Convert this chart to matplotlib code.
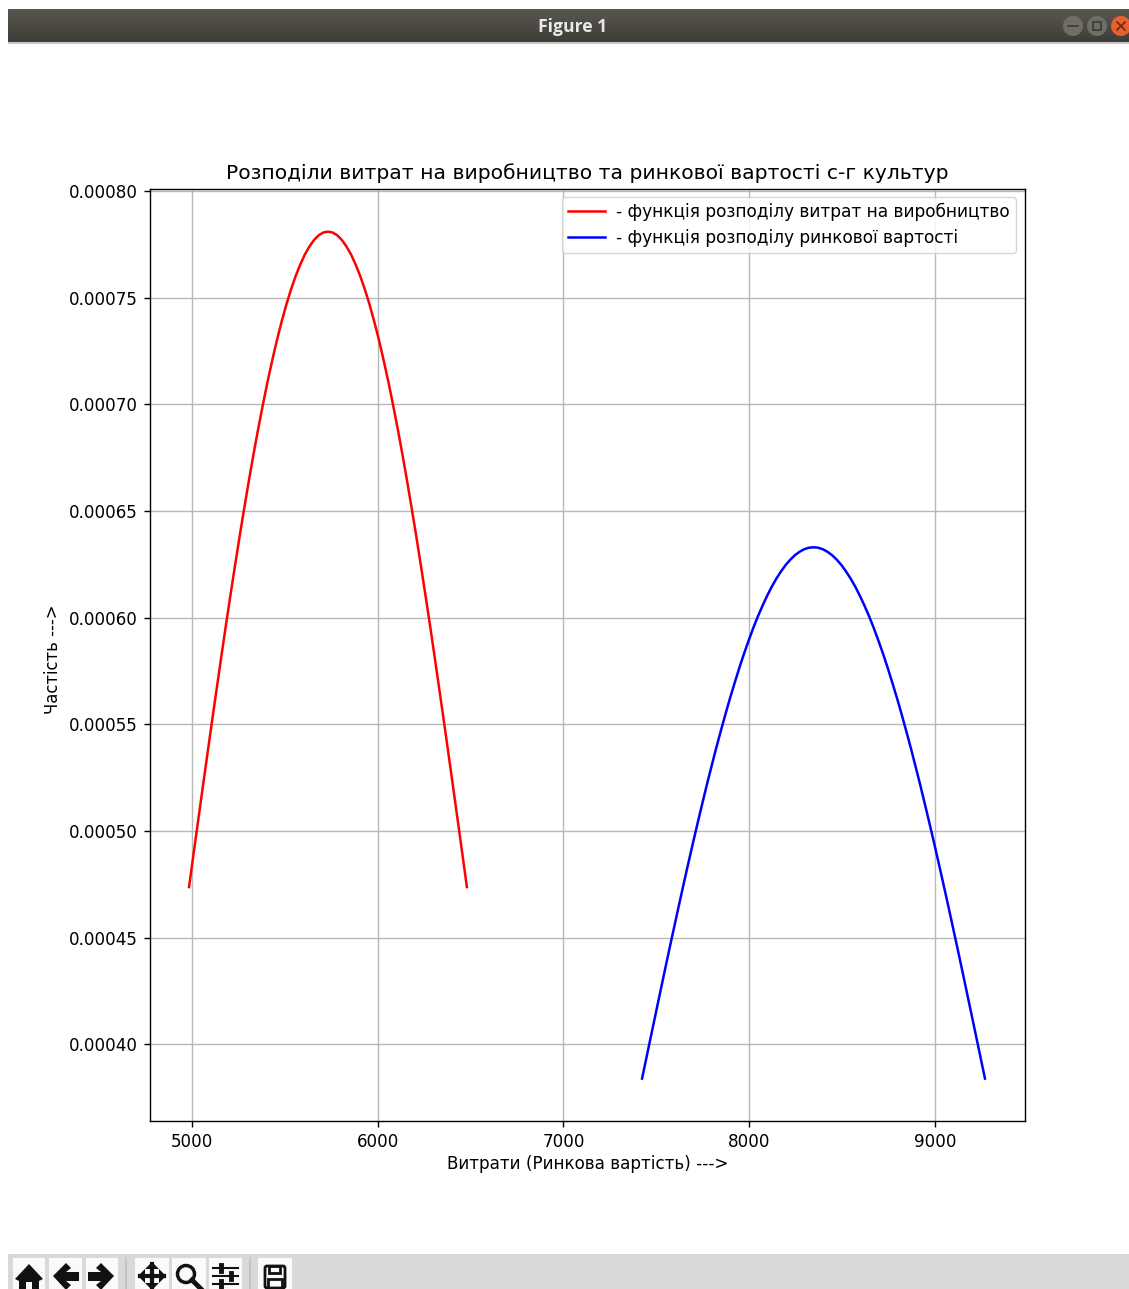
#!/usr/bin/env python3
"""Screenshot-style figure: cost and market value distributions."""
import numpy as np
import matplotlib
matplotlib.use("Agg")
import matplotlib.pyplot as plt
from matplotlib.colors import LinearSegmentedColormap
from matplotlib.patches import Circle, FancyBboxPatch, Polygon, Rectangle

W, H = 1129, 1289

cost_x = [4984, 5008, 5032, 5057, 5082, 5107, 5132, 5157, 5182, 5207, 5232, 5257, 5282,
          5307, 5332, 5357, 5382, 5407, 5432, 5457, 5482, 5507, 5532, 5557, 5582, 5607,
          5632, 5657, 5682, 5707, 5732, 5757, 5782, 5807, 5832, 5857, 5882, 5907, 5932,
          5957, 5982, 6007, 6032, 6057, 6082, 6107, 6132, 6157, 6182, 6207, 6232, 6257,
          6282, 6307, 6332, 6357, 6382, 6407, 6432, 6456, 6480]
cost_y = [4.737e-4, 4.889e-4, 5.041e-4, 5.198e-4, 5.354e-4, 5.509e-4, 5.661e-4, 5.812e-4,
          5.961e-4, 6.105e-4, 6.246e-4, 6.384e-4, 6.517e-4, 6.646e-4, 6.770e-4, 6.888e-4,
          7.000e-4, 7.107e-4, 7.206e-4, 7.300e-4, 7.386e-4, 7.465e-4, 7.536e-4, 7.599e-4,
          7.654e-4, 7.702e-4, 7.740e-4, 7.771e-4, 7.793e-4, 7.806e-4, 7.810e-4,
          7.806e-4, 7.793e-4, 7.771e-4, 7.740e-4, 7.702e-4, 7.654e-4, 7.599e-4, 7.536e-4,
          7.465e-4, 7.386e-4, 7.300e-4, 7.206e-4, 7.107e-4, 7.000e-4, 6.888e-4, 6.770e-4,
          6.646e-4, 6.517e-4, 6.384e-4, 6.246e-4, 6.105e-4, 5.961e-4, 5.812e-4, 5.661e-4,
          5.509e-4, 5.354e-4, 5.198e-4, 5.041e-4, 4.889e-4, 4.737e-4]

market_x = [7423, 7461, 7496, 7521, 7546, 7571, 7596, 7621, 7646, 7671, 7696, 7721, 7746,
            7771, 7796, 7821, 7846, 7871, 7896, 7921, 7946, 7971, 7996, 8021, 8046, 8071,
            8096, 8121, 8146, 8171, 8196, 8221, 8246, 8271, 8296, 8321, 8346, 8371, 8396,
            8421, 8446, 8471, 8496, 8521, 8546, 8571, 8596, 8621, 8646, 8671, 8696, 8721,
            8746, 8771, 8796, 8821, 8846, 8871, 8896, 8921, 8946, 8971, 8996, 9021, 9046,
            9071, 9096, 9121, 9146, 9171, 9196, 9231, 9269]
market_y = [3.839e-4, 3.997e-4, 4.142e-4, 4.245e-4, 4.348e-4, 4.450e-4, 4.550e-4, 4.650e-4,
            4.748e-4, 4.845e-4, 4.940e-4, 5.033e-4, 5.124e-4, 5.214e-4, 5.300e-4, 5.385e-4,
            5.466e-4, 5.545e-4, 5.621e-4, 5.693e-4, 5.763e-4, 5.829e-4, 5.891e-4, 5.950e-4,
            6.005e-4, 6.055e-4, 6.102e-4, 6.145e-4, 6.183e-4, 6.217e-4, 6.247e-4, 6.272e-4,
            6.293e-4, 6.309e-4, 6.321e-4, 6.328e-4, 6.330e-4,
            6.328e-4, 6.321e-4, 6.309e-4, 6.293e-4, 6.272e-4, 6.247e-4, 6.217e-4, 6.183e-4,
            6.145e-4, 6.102e-4, 6.055e-4, 6.005e-4, 5.950e-4, 5.891e-4, 5.829e-4, 5.763e-4,
            5.693e-4, 5.621e-4, 5.545e-4, 5.466e-4, 5.385e-4, 5.300e-4, 5.214e-4, 5.124e-4,
            5.033e-4, 4.940e-4, 4.845e-4, 4.748e-4, 4.650e-4, 4.550e-4, 4.450e-4, 4.348e-4,
            4.245e-4, 4.142e-4, 3.997e-4, 3.839e-4]

x_ticks = [5000, 6000, 7000, 8000, 9000]
y_ticks = [0.0004, 0.00045, 0.0005, 0.00055, 0.0006, 0.00065, 0.0007, 0.00075, 0.0008]
y_tick_labels = ["0.00040", "0.00045", "0.00050", "0.00055", "0.00060",
                 "0.00065", "0.00070", "0.00075", "0.00080"]

TITLE = "Розподіли витрат на виробництво та ринкової вартості с-г культур"
XLABEL = "Витрати (Ринкова вартість) --->"
YLABEL = "Частість --->"
COST_LABEL = "- функція розподілу витрат на виробництво"
MARKET_LABEL = "- функція розподілу ринкової вартості"

plt.rcParams["font.family"] = "DejaVu Sans"
plt.rcParams["font.size"] = 12.1

fig = plt.figure(figsize=(W / 100, H / 100), dpi=100)

# window chrome, in pixel coords
bg = fig.add_axes([0, 0, 1, 1], zorder=0)
bg.axis("off")
grad = np.linspace(0, 1, 33).reshape(-1, 1)
bar_cmap = LinearSegmentedColormap.from_list("bar", ["#5a5750", "#3e3d38"])
bg.imshow(grad, extent=(8, W, 42, 9), aspect="auto", cmap=bar_cmap)
bg.add_patch(Rectangle((8, 42), W - 8, 1.5, color="#c8c8c8", lw=0))
bg.text(573, 26.5, "Figure 1", color="#e8e8e4", fontsize=12.6, fontweight="bold",
        family="Open Sans", ha="center", va="center")
for cx, col in [(1073, "#6e6d66"), (1097, "#6e6d66"), (1121, "#e9602f")]:
    bg.add_patch(Circle((cx, 26), 10, color=col, lw=0))
bg.plot([1068, 1078], [26, 26], color="#3a3a36", lw=1.2)
bg.add_patch(Rectangle((1093, 22), 8, 8, fill=False, ec="#3a3a36", lw=1.2))
bg.plot([1117, 1125], [22, 30], color="#6a2a10", lw=1.2)
bg.plot([1117, 1125], [30, 22], color="#6a2a10", lw=1.2)

bg.add_patch(Rectangle((8, 1254), W - 8, H - 1254, color="#d9d9d9", lw=0))
for x0, x1 in [(13, 45), (49, 82), (86, 118), (135, 169), (172, 206), (209, 242), (258, 292)]:
    bg.add_patch(Rectangle((x0, 1258), x1 - x0, H - 1258, color="#fafafa", lw=0))
for xs in (126, 250):
    bg.plot([xs, xs], [1258, H], color="#c4c4c4", lw=1.5)
ic = "#111111"
bg.add_patch(Polygon([(15, 1279), (29, 1264), (43, 1279), (39, 1281), (39, 1289), (32, 1289), (32, 1282),
                      (26, 1282), (26, 1289), (19, 1289), (19, 1281)], color=ic, lw=0))
bg.add_patch(Polygon([(53, 1276), (66, 1263), (71, 1268), (66, 1272), (79, 1272), (79, 1281), (66, 1281),
                      (71, 1285), (66, 1290)], color=ic, lw=0))
bg.add_patch(Polygon([(114, 1276), (101, 1263), (96, 1268), (101, 1272), (88, 1272), (88, 1281), (101, 1281),
                      (96, 1285), (101, 1290)], color=ic, lw=0))
bg.plot([140, 164], [1276, 1276], color=ic, lw=3)
bg.plot([152, 152], [1264, 1289], color=ic, lw=3)
for pts in ([(138, 1276), (145, 1269), (145, 1283)], [(166, 1276), (159, 1269), (159, 1283)],
            [(152, 1262), (145, 1269), (159, 1269)], [(152, 1290), (145, 1283), (159, 1283)]):
    bg.add_patch(Polygon(pts, color=ic, lw=0))
bg.add_patch(Circle((186, 1274), 8.5, fill=False, ec=ic, lw=2.5))
bg.plot([192, 201], [1280, 1289], color=ic, lw=3.5)
for yy, kx in [(1268, 221), (1276, 231), (1284, 221)]:
    bg.plot([213, 238], [yy, yy], color=ic, lw=1.5)
    bg.plot([kx, kx], [yy - 3, yy + 3], color=ic, lw=3.5)
bg.add_patch(FancyBboxPatch((265, 1266), 20, 22, boxstyle="round,pad=0,rounding_size=2",
                            fill=False, ec=ic, lw=2))
bg.add_patch(Rectangle((269, 1266), 11, 7, fill=False, ec=ic, lw=2))
bg.add_patch(Rectangle((268, 1279), 14, 10, fill=False, ec=ic, lw=2))
bg.set_xlim(0, W)
bg.set_ylim(H, 0)

ax = fig.add_axes([150 / W, 1 - 1121 / H, 875 / W, 932 / H], zorder=1)
ax.plot(cost_x, cost_y, color="red", lw=1.8, label=COST_LABEL)
ax.plot(market_x, market_y, color="blue", lw=1.8, label=MARKET_LABEL)
ax.set_xlim(4774, 9484.5)
ax.set_ylim(0.000364, 0.000801)
ax.set_xticks(x_ticks)
ax.set_yticks(y_ticks)
ax.set_yticklabels(y_tick_labels)
ax.tick_params(length=4.2, width=1.0, pad=4.5)
ax.grid(True, color="#b8b8b8", lw=1.0)
for s in ax.spines.values():
    s.set_linewidth(1.0)
ax.set_title(TITLE, fontsize=14.55, pad=7)
ax.set_xlabel(XLABEL, labelpad=3)
ax.set_ylabel(YLABEL, labelpad=5, y=0.495, fontsize=11.9)
ax.legend(loc="upper right", fontsize=12.25, handlelength=2.15, handletextpad=0.7,
          borderpad=0.35, labelspacing=0.46, borderaxespad=0.45, bbox_to_anchor=(0.9985, 0.9995))

fig.savefig("out.png", dpi=100)
